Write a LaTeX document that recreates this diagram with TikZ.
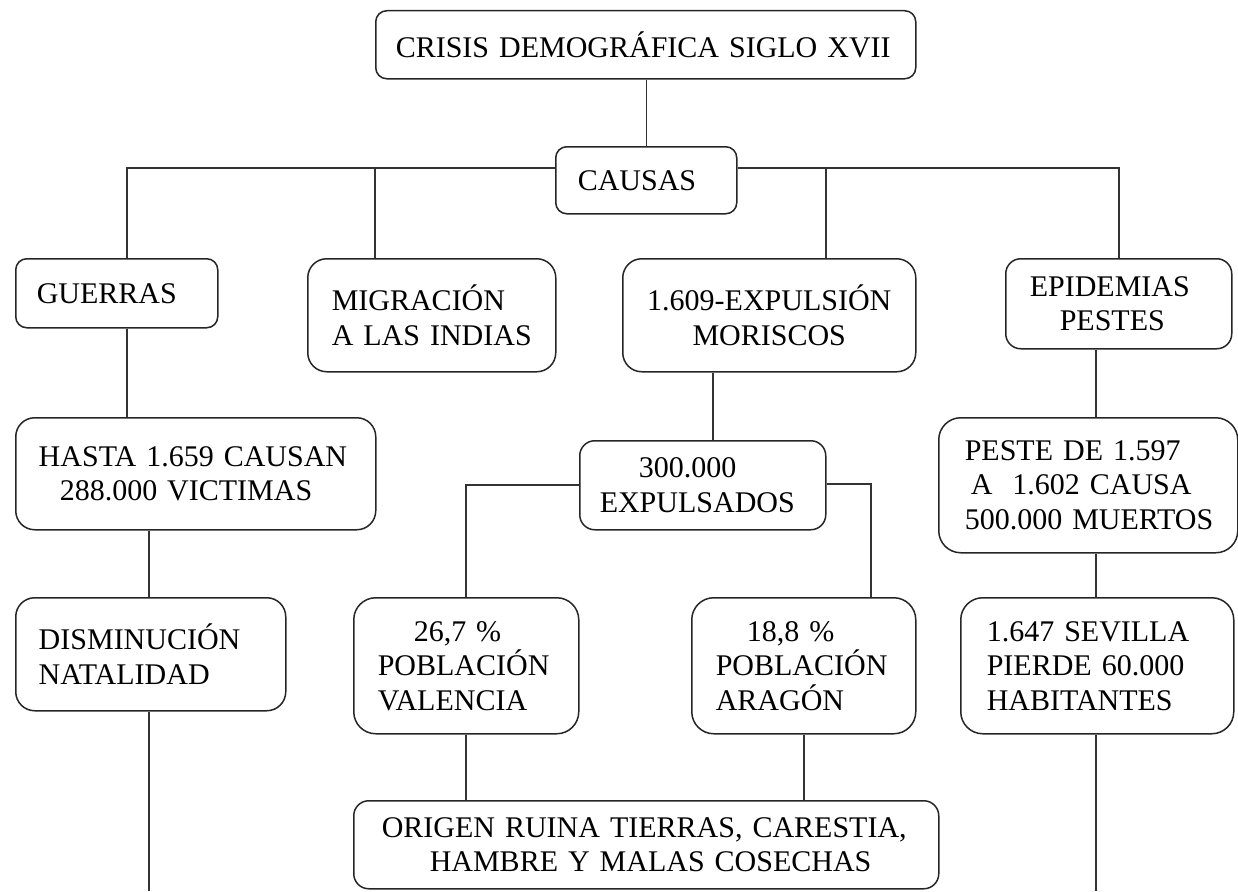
\documentclass[tikz,border=0pt]{standalone}
\usepackage{fontspec}
\setmainfont{Liberation Serif}
\newcommand{\lpad}[1]{\hspace*{#1pt}}
\begin{document}
\begin{tikzpicture}[x=1pt,y=-1pt,
  box/.style={draw=black!85, line width=1.5pt, anchor=north west, inner xsep=0pt, inner ysep=0pt,
    align=left, font=\fontsize{30}{34.5}\selectfont, text=black},
  cbox/.style={box, align=center},
  conn/.style={draw=black!80, line width=1.5pt}]
\useasboundingbox[fill=white] (0,0) rectangle (1238,891);

% boxes
\node[box, text width=540pt, minimum height=68pt, rounded corners=11pt] (top) at (375,10)
  {\lpad{20}CRISIS DEMOGRÁFICA SIGLO XVII};
\node[box, text width=181pt, minimum height=67pt, rounded corners=11pt] (causas) at (555,146)
  {\lpad{22}CAUSAS};
\node[box, text width=202pt, minimum height=69pt, rounded corners=11pt] (guerras) at (15,258)
  {\lpad{21}GUERRAS};
\node[box, text width=248pt, minimum height=113pt, rounded corners=19pt] (migr) at (307,258)
  {\lpad{24}MIGRACIÓN\\\lpad{24}A LAS INDIAS};
\node[cbox, text width=293pt, minimum height=113pt, rounded corners=19pt] (expul) at (622,258)
  {1.609-EXPULSIÓN\\MORISCOS};
\node[box, text width=226pt, minimum height=90pt, rounded corners=15pt] (epid) at (1005,258)
  {\lpad{24}EPIDEMIAS\\\lpad{54}PESTES};
\node[box, text width=360pt, minimum height=112pt, rounded corners=19pt] (hasta) at (15,417)
  {\lpad{23}HASTA 1.659 CAUSAN\\\lpad{44}288.000 VICTIMAS};
\node[box, text width=270pt, minimum height=113pt, rounded corners=19pt] (dism) at (15,597)
  {\lpad{23}DISMINUCIÓN\\\lpad{23}NATALIDAD};
\node[box, text width=246pt, minimum height=89pt, rounded corners=15pt] (exp300) at (579,440)
  {\lpad{59}300.000\\\lpad{20}EXPULSADOS};
\node[box, text width=225pt, minimum height=136pt, rounded corners=22pt] (val) at (353,597)
  {\lpad{60}26,7 \%\\\lpad{24}POBLACIÓN\\\lpad{24}VALENCIA};
\node[box, text width=224pt, minimum height=136pt, rounded corners=22pt] (arag) at (691,597)
  {\lpad{55}18,8 \%\\\lpad{24}POBLACIÓN\\\lpad{24}ARAGÓN};
\node[box, text width=299pt, minimum height=135pt, rounded corners=22pt] (peste) at (938,417)
  {\lpad{26}PESTE DE 1.597\\\lpad{32}A\ \ 1.602 CAUSA\\\lpad{26}500.000 MUERTOS};
\node[box, text width=273pt, minimum height=136pt, rounded corners=22pt] (sev) at (960,597)
  {\lpad{26}1.647 SEVILLA\\\lpad{26}PIERDE 60.000\\\lpad{26}HABITANTES};
\node[box, text width=585pt, minimum height=88pt, rounded corners=15pt] (origen) at (353,800)
  {\lpad{28}ORIGEN RUINA TIERRAS, CARESTIA,\\\lpad{76}HAMBRE Y MALAS COSECHAS};

% helper coordinates
\coordinate (b1) at (127,168);
\coordinate (b2) at (375,168);
\coordinate (b3) at (826,168);
\coordinate (b4) at (1119,168);
\coordinate (c1) at (149,891);
\coordinate (c2) at (713,400);
\coordinate (m1) at (466,485);
\coordinate (m2) at (871,484);
\coordinate (c3) at (1096,891);

% connectors
\draw[conn] (top.south -| causas.north) -- (causas.north);
\draw[conn] (causas.west |- b1) -- (b1) -- (b1 |- guerras.north);
\draw[conn] (b2) -- (b2 |- migr.north);
\draw[conn] (causas.east |- b4) -- (b4) -- (b4 |- epid.north);
\draw[conn] (b3) -- (b3 |- expul.north);
\draw[conn] (b1 |- guerras.south) -- (b1 |- hasta.north);
\draw[conn] (c1 |- hasta.south) -- (c1 |- dism.north);
\draw[conn] (c1 |- dism.south) -- (c1);
\draw[conn] (c2 |- expul.south) -- (c2 |- exp300.north);
\draw[conn] (exp300.west |- m1) -- (m1) -- (m1 |- val.north);
\draw[conn] (exp300.east |- m2) -- (m2) -- (m2 |- arag.north);
\draw[conn] (m1 |- val.south) -- (m1 |- origen.north);
\draw[conn] (arag.south) -- (arag.south |- origen.north);
\draw[conn] (c3 |- epid.south) -- (c3 |- peste.north);
\draw[conn] (c3 |- peste.south) -- (c3 |- sev.north);
\draw[conn] (c3 |- sev.south) -- (c3);
\end{tikzpicture}
\end{document}
